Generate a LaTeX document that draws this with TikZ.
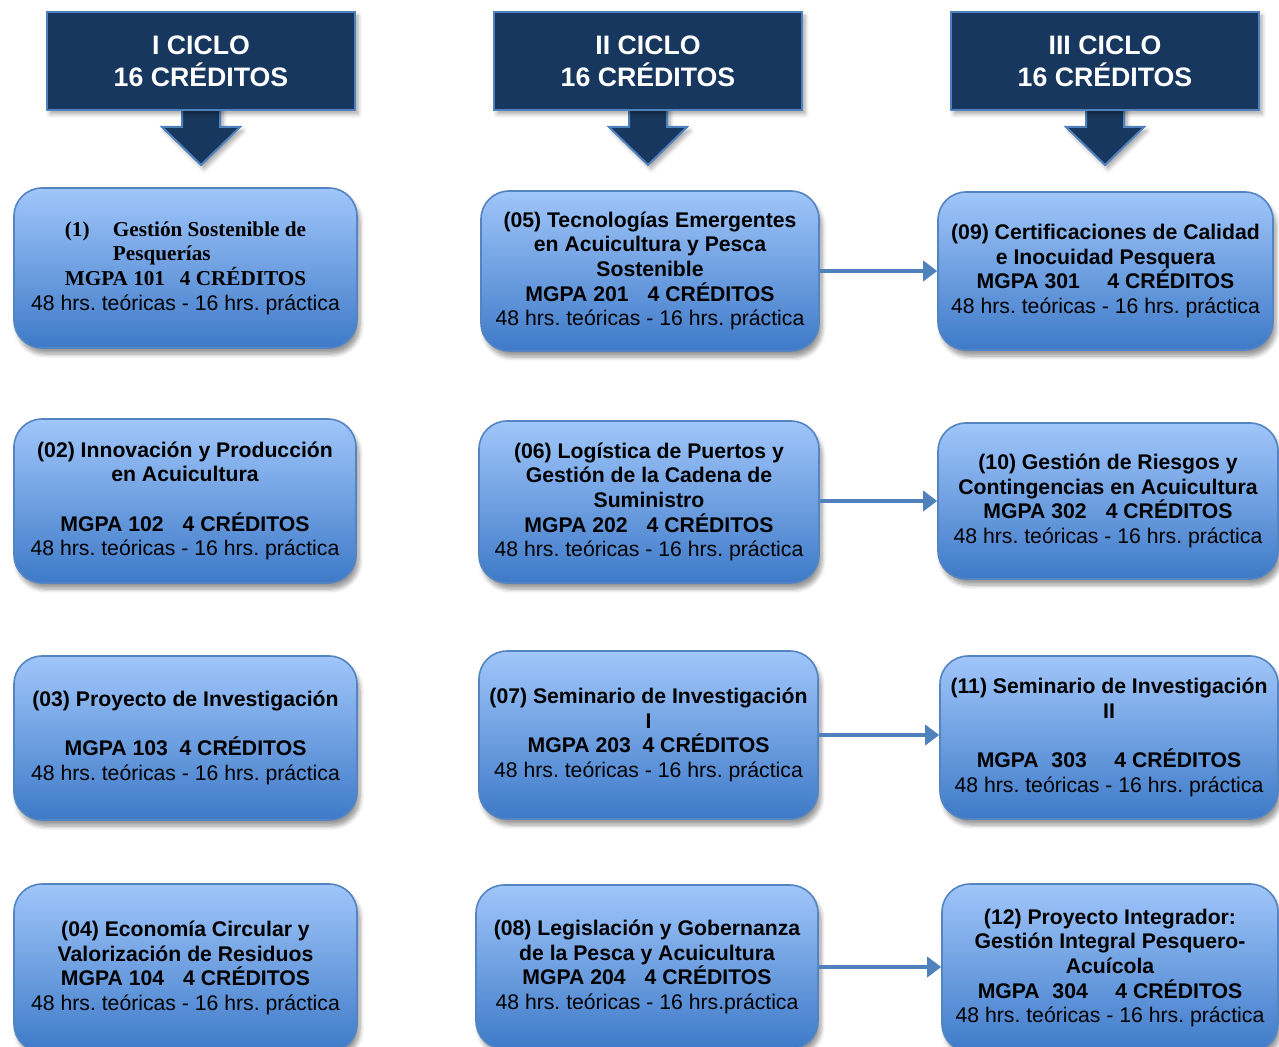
\documentclass[tikz,border=0pt]{standalone}
\usepackage{fontspec}
\setmainfont{Liberation Sans}
\newfontfamily\tnr{Liberation Serif}
\usetikzlibrary{arrows.meta,calc,shadows.blur}
\frenchspacing
\definecolor{hdrfill}{RGB}{24,55,94}
\definecolor{hdrline}{RGB}{79,129,189}
\definecolor{boxtop}{RGB}{160,198,250}
\definecolor{boxbot}{RGB}{62,122,200}
\definecolor{boxline}{RGB}{84,132,194}
\definecolor{arrowc}{RGB}{79,129,189}
\tikzset{
  hdr/.style={draw=hdrline, line width=1.2pt, fill=hdrfill, text=white,
    minimum width=154pt, minimum height=49pt, inner sep=0pt, align=center,
    font={\fontsize{13.35}{16}\selectfont\bfseries},
    blur shadow={shadow xshift=1.5pt, shadow yshift=-2pt, shadow blur steps=5, shadow opacity=35}},
  hdrarrow/.style={draw=hdrline, line width=1pt, fill=hdrfill,
    blur shadow={shadow xshift=1.5pt, shadow yshift=-2pt, shadow blur steps=5, shadow opacity=35}},
  course/.style={draw=boxline, line width=0.8pt, rounded corners=14pt,
    top color=boxtop, bottom color=boxbot, inner sep=0pt, align=center,
    font={\fontsize{10.6}{12.3}\selectfont\bfseries\frenchspacing},
    blur shadow={shadow xshift=1.5pt, shadow yshift=-3pt, shadow blur steps=6, shadow opacity=40}},
  link/.style={draw=arrowc, line width=2pt, -{Triangle[length=7pt,width=10pt]}}
}
\newcommand{\hrsline}{\mdseries 48 hrs. teóricas - 16 hrs. práctica}
\begin{document}
\begin{tikzpicture}[x=0.5pt,y=-0.5pt]
\useasboundingbox (0,0) rectangle (1279,1047);
\clip (0,0) rectangle (1279,1047);

% header arrows
\foreach \cx in {201,648,1105}{
  \draw[hdrarrow] (\cx-19,105) -- (\cx+19,105) -- (\cx+19,127) -- (\cx+39,127)
     -- (\cx,165) -- (\cx-39,127) -- (\cx-19,127) -- cycle;
}
% headers
\node[hdr] (h1) at (201,61) {I CICLO\\16 CRÉDITOS};
\node[hdr] (h2) at (648,61) {II CICLO\\16 CRÉDITOS};
\node[hdr] (h3) at (1105,61) {III CICLO\\16 CRÉDITOS};

% column 1
\node[course, minimum width=171.5pt, minimum height=80pt] (b1) at (185.5,268)
 {\tnr\hbox{\makebox[24pt][l]{(1)}\vtop{\hbox{Gestión Sostenible de}\hbox{Pesquerías}}}\\
  \tnr MGPA 101\hspace{0.7em}4 CRÉDITOS\\ \hrsline};
\node[course, minimum width=171pt, minimum height=82pt] (b2) at (185,501)
 {(02) Innovación y Producción\\en Acuicultura\\\mbox{}\\MGPA 102\hspace{0.9em}4 CRÉDITOS\\ \hrsline};
\node[course, minimum width=171.5pt, minimum height=82pt] (b3) at (185.5,738)
 {(03) Proyecto de Investigación\\\mbox{}\\MGPA 103\hspace{0.55em}4 CRÉDITOS\\ \hrsline};
\node[course, minimum width=171.5pt, minimum height=84pt] (b4) at (185.5,968)
 {(04) Economía Circular y\\Valorización de Residuos\\MGPA 104\hspace{0.9em}4 CRÉDITOS\\ \hrsline};

% column 2
\node[course, minimum width=169pt, minimum height=80pt] (b5) at (650,271)
 {(05) Tecnologías Emergentes\\en Acuicultura y Pesca\\Sostenible\\MGPA 201\hspace{0.9em}4 CRÉDITOS\\ \hrsline};
\node[course, minimum width=170pt, minimum height=81pt] (b6) at (649,502)
 {(06) Logística de Puertos y\\Gestión de la Cadena de\\Suministro\\MGPA 202\hspace{0.9em}4 CRÉDITOS\\ \hrsline};
\node[course, minimum width=169.5pt, minimum height=84pt] (b7) at (648.5,735)
 {(07) Seminario de Investigación\\I\\MGPA 203\hspace{0.55em}4 CRÉDITOS\\ \hrsline};
\node[course, minimum width=171pt, minimum height=82pt] (b8) at (647,967)
 {(08) Legislación y Gobernanza\\de la Pesca y Acuicultura\\MGPA 204\hspace{0.9em}4 CRÉDITOS\\ \mdseries 48 hrs. teóricas - 16 hrs.práctica};

% column 3
\node[course, minimum width=167.5pt, minimum height=79pt] (b9) at (1105.5,271)
 {(09) Certificaciones de Calidad\\e Inocuidad Pesquera\\MGPA 301\hspace{1.3em}4 CRÉDITOS\\ \hrsline};
\node[course, minimum width=170pt, minimum height=78pt] (b10) at (1108,501)
 {(10) Gestión de Riesgos y\\Contingencias en Acuicultura\\MGPA 302\hspace{0.9em}4 CRÉDITOS\\ \hrsline};
\node[course, minimum width=169pt, minimum height=81.5pt] (b11) at (1109,737.5)
 {(11) Seminario de Investigación\\II\\\mbox{}\\MGPA\hspace{0.6em}303\hspace{1.3em}4 CRÉDITOS\\ \hrsline};
\node[course, minimum width=168pt, minimum height=84pt] (b12) at (1110,968)
 {(12) Proyecto Integrador:\\Gestión Integral Pesquero-\\Acuícola\\MGPA\hspace{0.6em}304\hspace{1.3em}4 CRÉDITOS\\ \hrsline};

% connectors
\draw[link] (b5.east) -- (b9.west |- b5.east);
\draw[link] (b6.east |- b10.west) -- (b10.west);
\draw[link] (b7.east) -- (b11.west |- b7.east);
\draw[link] (b8.east) -- (b12.west |- b8.east);
\end{tikzpicture}
\end{document}
